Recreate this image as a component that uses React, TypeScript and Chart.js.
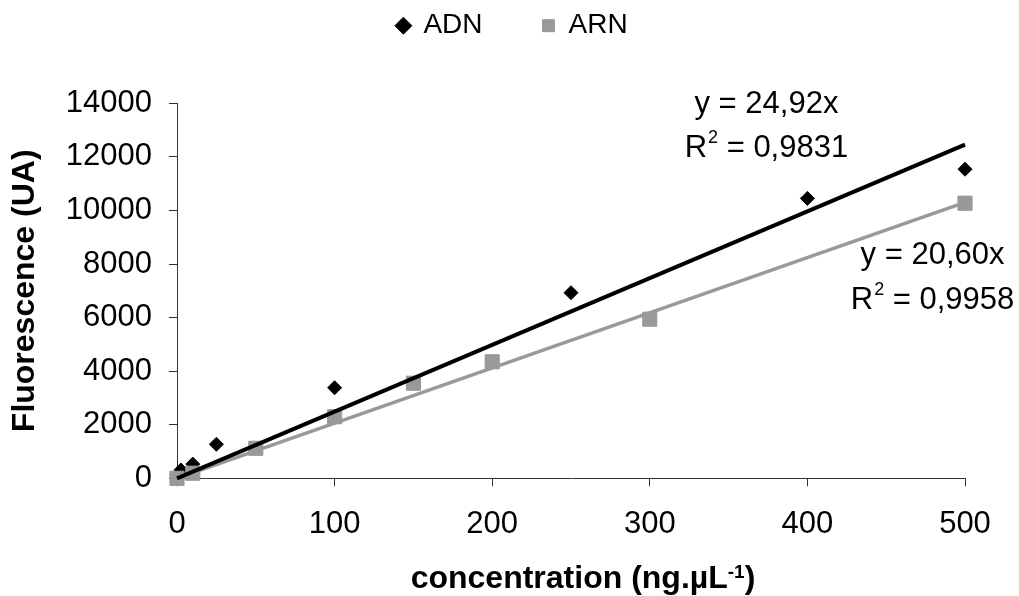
import React, { useEffect, useRef } from "react";
import { Chart, registerables } from "chart.js";

Chart.register(...registerables);

// ---- data ----
const SERIES_NAMES = ["ADN", "ARN"];
const ADN_X = [0, 2.5, 10, 25, 100, 250, 400, 500];
const ADN_Y = [0, 310, 530, 1270, 3380, 6930, 10450, 11540];
const ARN_X = [0, 10, 50, 100, 150, 200, 300, 500];
const ARN_Y = [0, 190, 1120, 2300, 3550, 4350, 5940, 10270];
const TREND_X = [0, 500];
const ADN_TREND_Y = [0, 12460];
const ARN_TREND_Y = [0, 10300];
const X_TICKS = [0, 100, 200, 300, 400, 500];
const Y_TICKS = [0, 2000, 4000, 6000, 8000, 10000, 12000, 14000];
const ADN_EQUATION = "y = 24,92x";
const ADN_R2 = "0,9831";
const ARN_EQUATION = "y = 20,60x";
const ARN_R2 = "0,9958";
const X_TITLE_MAIN = "concentration (ng.µL";
const X_TITLE_SUP = "-1";
const X_TITLE_END = ")";
const Y_TITLE = "Fluorescence (UA)";

// ---- label anchors (in data units) ----
const ADN_LABEL_X = 374;
const ADN_LABEL_Y = [13630, 11985];
const ARN_LABEL_X = 479.4;
const ARN_LABEL_Y = [7990, 6310];

const FONT = "'Liberation Sans', Arial, Helvetica, sans-serif";
const GRAY = "#999999";
const AXIS = "#333333";

function toPoints(xs: number[], ys: number[]) {
  return xs.map((x, i) => ({ x, y: ys[i] }));
}

function drawEquation(ctx: CanvasRenderingContext2D, cx: number, y1: number, y2: number, eq: string, r2: string) {
  ctx.textAlign = "left";
  ctx.textBaseline = "alphabetic";
  ctx.font = `31px ${FONT}`;
  const w1 = ctx.measureText(eq).width;
  ctx.fillText(eq, cx - w1 / 2, y1);
  const rest = " = " + r2;
  const wR = ctx.measureText("R").width;
  const wRest = ctx.measureText(rest).width;
  ctx.font = `18px ${FONT}`;
  const wS = ctx.measureText("2").width;
  const gap = 1;
  const total = wR + gap + wS + wRest;
  let x0 = cx - total / 2;
  ctx.font = `31px ${FONT}`;
  ctx.fillText("R", x0, y2);
  x0 += wR + gap;
  ctx.font = `18px ${FONT}`;
  ctx.fillText("2", x0, y2 - 14);
  x0 += wS;
  ctx.font = `31px ${FONT}`;
  ctx.fillText(rest, x0, y2);
}

const textPlugin = {
  id: "textPlugin",
  afterDatasetsDraw(chart: any) {
    const { ctx, scales, chartArea } = chart;
    const xs = scales.x;
    const ys = scales.y;
    ctx.save();
    ctx.fillStyle = "#000";
    drawEquation(
      ctx,
      xs.getPixelForValue(ADN_LABEL_X),
      ys.getPixelForValue(ADN_LABEL_Y[0]),
      ys.getPixelForValue(ADN_LABEL_Y[1]),
      ADN_EQUATION,
      ADN_R2
    );
    drawEquation(
      ctx,
      xs.getPixelForValue(ARN_LABEL_X),
      ys.getPixelForValue(ARN_LABEL_Y[0]),
      ys.getPixelForValue(ARN_LABEL_Y[1]),
      ARN_EQUATION,
      ARN_R2
    );
    // x axis title with superscript
    const baseline = chartArea.bottom + 110;
    const center = (chartArea.left + chartArea.right) / 2 + 12;
    ctx.font = `bold 32px ${FONT}`;
    const wMain = ctx.measureText(X_TITLE_MAIN).width;
    const wEnd = ctx.measureText(X_TITLE_END).width;
    ctx.font = `bold 19px ${FONT}`;
    const wSup = ctx.measureText(X_TITLE_SUP).width;
    let x0 = center - (wMain + wSup + wEnd) / 2;
    ctx.textAlign = "left";
    ctx.textBaseline = "alphabetic";
    ctx.font = `bold 32px ${FONT}`;
    ctx.fillText(X_TITLE_MAIN, x0, baseline);
    x0 += wMain;
    ctx.font = `bold 19px ${FONT}`;
    ctx.fillText(X_TITLE_SUP, x0, baseline - 10);
    x0 += wSup;
    ctx.font = `bold 32px ${FONT}`;
    ctx.fillText(X_TITLE_END, x0, baseline);
    ctx.restore();
  },
};

export default function App() {
  const ref = useRef<HTMLCanvasElement | null>(null);

  useEffect(() => {
    document.body.style.margin = "0";
    if (!ref.current) return;
    Chart.defaults.font.family = FONT;
    const chart = new Chart(ref.current, {
      type: "scatter",
      data: {
        datasets: [
          {
            label: SERIES_NAMES[0],
            data: toPoints(ADN_X, ADN_Y),
            pointStyle: "rectRot",
            pointRadius: 7,
            backgroundColor: "#000",
            borderColor: "#000",
            borderWidth: 1,
            clip: false,
            order: 3,
          },
          {
            label: SERIES_NAMES[1],
            data: toPoints(ARN_X, ARN_Y),
            pointStyle: "rect",
            pointRadius: 10,
            backgroundColor: GRAY,
            borderColor: GRAY,
            borderWidth: 1,
            clip: false,
            order: 2,
          },
          {
            label: "ADN trend",
            data: toPoints(TREND_X, ADN_TREND_Y),
            showLine: true,
            pointRadius: 0,
            borderColor: "#000",
            backgroundColor: "#000",
            borderWidth: 4,
            clip: false,
            order: 0,
          },
          {
            label: "ARN trend",
            data: toPoints(TREND_X, ARN_TREND_Y),
            showLine: true,
            pointRadius: 0,
            borderColor: GRAY,
            backgroundColor: GRAY,
            borderWidth: 3.5,
            clip: false,
            order: 1,
          },
        ] as any,
      },
      options: {
        animation: false,
        responsive: true,
        maintainAspectRatio: false,
        layout: { padding: { left: 6, right: 0, top: -48.3, bottom: 0 } },
        plugins: {
          tooltip: { enabled: false },
          legend: {
            display: true,
            position: "top",
            labels: {
              usePointStyle: true,
              boxWidth: 12,
              boxHeight: 12,
              padding: 60,
              color: "#000",
              font: { size: 28, family: FONT },
              filter: (item: any) => item.datasetIndex < 2,
              sort: (a: any, b: any) => a.datasetIndex - b.datasetIndex,
            },
          },
        },
        scales: {
          x: {
            type: "linear",
            position: "bottom",
            min: 0,
            max: 500,
            afterBuildTicks: (s: any) => {
              s.ticks = X_TICKS.map((v) => ({ value: v }));
            },
            afterFit: (s: any) => {
              s.height = 117.7;
            },
            grid: { display: true, drawOnChartArea: false, drawTicks: true, tickLength: 8, color: AXIS },
            border: { display: true, color: AXIS, width: 1 },
            ticks: {
              color: "#000",
              font: { size: 31, family: FONT },
              padding: 20,
              maxRotation: 0,
              callback: (v: any) => String(v),
            },
            title: { display: false },
          },
          y: {
            type: "linear",
            position: "left",
            min: 0,
            max: 14000,
            afterBuildTicks: (s: any) => {
              s.ticks = Y_TICKS.map((v) => ({ value: v }));
            },
            afterFit: (s: any) => {
              s.width = 171;
            },
            grid: { display: true, drawOnChartArea: false, drawTicks: true, tickLength: 8, color: AXIS },
            border: { display: true, color: AXIS, width: 1 },
            ticks: {
              color: "#000",
              font: { size: 31, family: FONT },
              padding: 17,
              callback: (v: any) => String(v),
            },
            title: {
              display: true,
              text: Y_TITLE,
              color: "#000",
              font: { size: 32, weight: "bold", family: FONT },
              padding: { top: 0, bottom: 0 },
            },
          },
          xTop: {
            type: "linear",
            position: "top",
            display: true,
            grid: { display: false },
            border: { display: false },
            ticks: { display: false },
            afterFit: (s: any) => {
              s.height = 53.6;
            },
          },
          yRight: {
            type: "linear",
            position: "right",
            display: true,
            grid: { display: false },
            border: { display: false },
            ticks: { display: false },
            afterFit: (s: any) => {
              s.width = 54;
            },
          },
        } as any,
      },
      plugins: [textPlugin],
    });
    return () => chart.destroy();
  }, []);

  return (
    <div style={{ width: 1019, height: 596, position: "relative" }}>
      <canvas ref={ref} />
    </div>
  );
}
